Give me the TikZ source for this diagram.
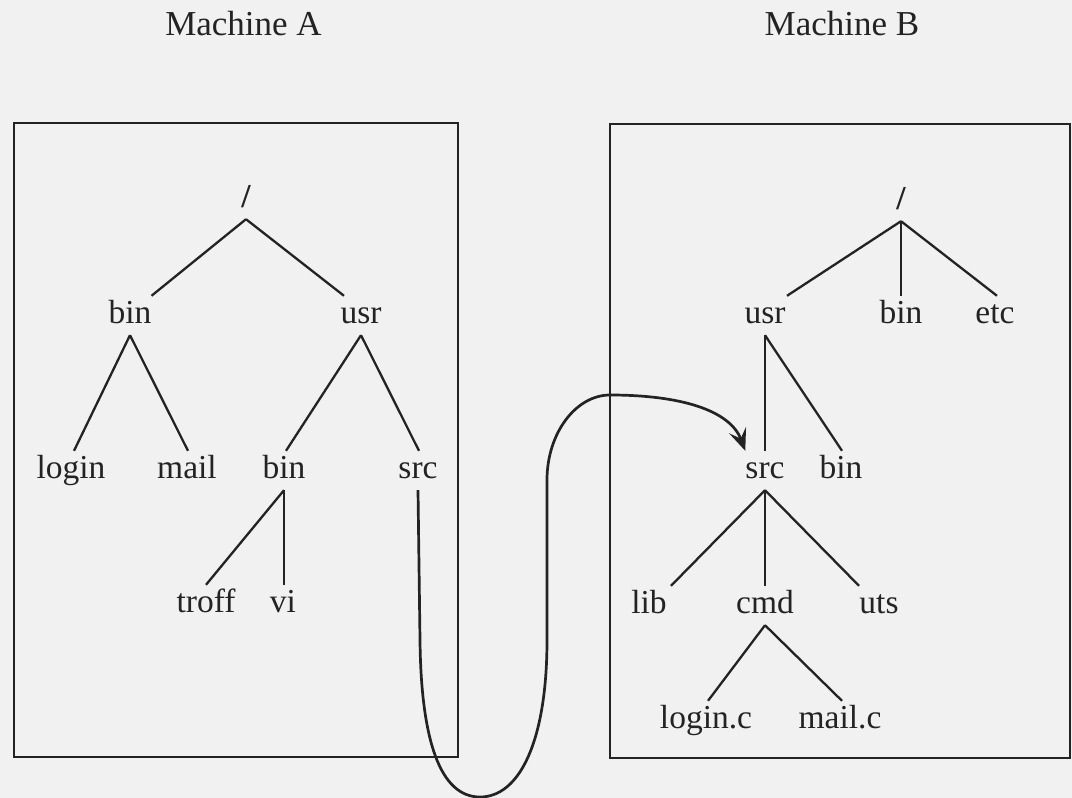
\documentclass[tikz,border=0pt]{standalone}
\usepackage{fontspec}
\setmainfont{Liberation Serif}
\usetikzlibrary{arrows.meta,calc}
\definecolor{ink}{HTML}{232323}
\definecolor{paper}{HTML}{F1F1F1}
\begin{document}
\begin{tikzpicture}[x=1pt,y=-1pt,
  lbl/.style={anchor=base,inner sep=0pt,text height=27pt,text depth=12pt,font=\fontsize{33.5}{40}\selectfont,text=ink},
  root/.style={lbl,font=\fontsize{33.5}{40}\selectfont\bfseries},
  ttl/.style={anchor=base,inner sep=0pt,font=\fontsize{35}{42}\selectfont,text=ink},
  edge/.style={draw=ink,line width=2.3pt},
  frame/.style={draw=ink,line width=2.8pt},
  link/.style={draw=ink,line width=2.7pt,-{Stealth[length=22pt,width=18pt,inset=9pt]}}]
\fill[paper] (0,0) rectangle (1072,798);
\useasboundingbox (0,0) rectangle (1072,798);
% titles
\node[ttl] (tA) at (243.5,35) {Machine A};
\node[ttl] (tB) at (842,35) {Machine B};
% frames
\draw[frame] (14,123) rectangle (458,757);
\draw[frame] (610,124) rectangle (1070,758);
% tree A
\node[root] (rA) at (246,207) {/};
\node[lbl] (binA) at (130,323) {bin};
\node[lbl] (usrA) at (361,323) {usr};
\node[lbl] (loginA) at (71,478) {login};
\node[lbl] (mailA) at (187,478) {mail};
\node[lbl] (binAA) at (284,478) {bin};
\node[lbl] (srcA) at (418,478) {src};
\node[lbl] (troffA) at (206,612) {troff};
\node[lbl] (viA) at (283,612) {vi};
\draw[edge] (rA.south) -- ([xshift=21.5pt]binA.north);
\draw[edge] (rA.south) -- ([xshift=-17pt]usrA.north);
\draw[edge] (binA.south) -- ([xshift=3pt]loginA.north);
\draw[edge] (binA.south) -- ([xshift=1pt]mailA.north);
\draw[edge] (usrA.south) -- ([xshift=2pt]binAA.north);
\draw[edge] (usrA.south) -- ([xshift=1pt]srcA.north);
\draw[edge] (binAA.south) -- (troffA.north);
\draw[edge] (binAA.south) -- ([xshift=1pt]viA.north);
% tree B
\node[root] (rB) at (901,209) {/};
\node[lbl] (usrB) at (765,323) {usr};
\node[lbl] (binB) at (901,323) {bin};
\node[lbl] (etcB) at (995,323) {etc};
\node[lbl] (srcB) at (765,478) {src};
\node[lbl] (binBB) at (841,478) {bin};
\node[lbl] (libB) at (649,613) {lib};
\node[lbl] (cmdB) at (765,613) {cmd};
\node[lbl] (utsB) at (879,613) {uts};
\node[lbl] (logincB) at (706,728) {login.c};
\node[lbl] (mailcB) at (840,728) {mail.c};
\draw[edge] (rB.south) -- ([xshift=22pt]usrB.north);
\draw[edge] (rB.south) -- (binB.north);
\draw[edge] (rB.south) -- ([xshift=2pt]etcB.north);
\draw[edge] (usrB.south) -- (srcB.north);
\draw[edge] (usrB.south) -- ([xshift=1pt]binBB.north);
\draw[edge] (srcB.south) -- ([xshift=22pt]libB.north);
\draw[edge] (srcB.south) -- (cmdB.north);
\draw[edge] (srcB.south) -- ([xshift=-20pt]utsB.north);
\draw[edge] (cmdB.south) -- ([xshift=2pt]logincB.north);
\draw[edge] (cmdB.south) -- ([xshift=2pt]mailcB.north);
% mount link
\draw[link] (srcA.south) -- (420,640)
  .. controls (421,740) and (440,797) .. (480,797)
  .. controls (520,797) and (547,740) .. (547,640)
  -- (547,480)
  .. controls (547,433) and (576,395) .. (610,395)
  .. controls (680,395) and (730,410) .. (srcB.north west);
\end{tikzpicture}
\end{document}
